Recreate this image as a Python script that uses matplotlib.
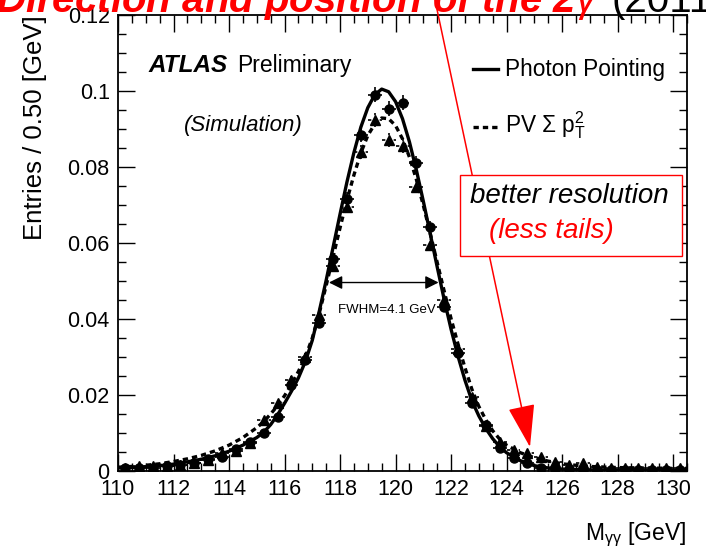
import numpy as np
import matplotlib
matplotlib.use('Agg')
import matplotlib.pyplot as plt
from matplotlib.ticker import MultipleLocator, FuncFormatter
from matplotlib.patches import Rectangle, FancyArrowPatch

plt.rcParams['font.family'] = ['Liberation Sans', 'DejaVu Sans']
plt.rcParams['mathtext.fontset'] = 'custom'
plt.rcParams['mathtext.rm'] = 'Liberation Sans'
plt.rcParams['mathtext.it'] = 'Liberation Sans:italic'
plt.rcParams['mathtext.bf'] = 'Liberation Sans:bold'

# bin centres, 0.5 GeV bins
mass = np.arange(110.25, 130.5, 0.5)

# Photon Pointing (circles), normalised entries
pp = [0.0007, 0.0008, 0.0009, 0.0012, 0.0016, 0.0021, 0.0032, 0.0038, 0.0058, 0.0077,
      0.0099, 0.0143, 0.0226, 0.0292, 0.0390, 0.0558, 0.0716, 0.0884, 0.0990, 0.0953,
      0.0969, 0.0811, 0.0643, 0.0432, 0.0310, 0.0178, 0.0121, 0.0060, 0.0033, 0.0022,
      0.0009, 0.0004, 0.0004, 0.0003, 0.0003, 0.0002, 0.0002, 0.0003, 0.0002, 0.0002,
      0.0002]

# PV sum pT^2 (triangles)
pv = [0.0009, 0.0012, 0.0013, 0.0014, 0.0016, 0.0022, 0.0028, 0.0048, 0.0052, 0.0075,
      0.0135, 0.0179, 0.0240, 0.0300, 0.0410, 0.0540, 0.0696, 0.0840, 0.0924, 0.0871,
      0.0855, 0.0748, 0.0595, 0.0450, 0.0320, 0.0195, 0.0118, 0.0077, 0.0055, 0.0048,
      0.0037, 0.0024, 0.0016, 0.0020, 0.0010, 0.0009, 0.0008, 0.0009, 0.0007, 0.0008,
      0.0008]

n_events = 25000  # for statistical error bars

# fitted curves
curve_x = [110.0, 110.5, 111.0, 111.5, 112.0, 112.5, 113.0, 113.5, 114.0, 114.5,
           115.0, 115.25, 115.5, 115.75, 116.0, 116.25, 116.5, 116.75, 117.0, 117.25,
           117.5, 117.75, 118.0, 118.25, 118.5, 118.75, 119.0, 119.25, 119.5, 119.75,
           120.0, 120.25, 120.5, 120.75, 121.0, 121.25, 121.5, 121.75, 122.0, 122.25,
           122.5, 122.75, 123.0, 123.25, 123.5, 123.75, 124.0, 124.5, 125.0, 125.5,
           126.0, 126.5, 127.0, 128.0, 129.0, 130.0, 130.5]
pp_fit = [0.0008, 0.0009, 0.0011, 0.0014, 0.0018, 0.0024, 0.0031, 0.0040, 0.0052, 0.0068,
          0.0088, 0.0102, 0.0122, 0.0148, 0.0178, 0.0210, 0.0245, 0.0288, 0.0344, 0.0420,
          0.0502, 0.0589, 0.0676, 0.0761, 0.0838, 0.0905, 0.0956, 0.0990, 0.1005, 0.0998,
          0.0972, 0.0927, 0.0866, 0.0792, 0.0710, 0.0624, 0.0537, 0.0452, 0.0373, 0.0302,
          0.0239, 0.0185, 0.0145, 0.0112, 0.0085, 0.0064, 0.0048, 0.0027, 0.0014, 0.0008,
          0.0005, 0.0004, 0.0003, 0.0002, 0.0002, 0.0002, 0.0002]
pv_fit = [0.0010, 0.0012, 0.0015, 0.0019, 0.0025, 0.0032, 0.0041, 0.0053, 0.0068, 0.0088,
          0.0114, 0.0130, 0.0150, 0.0172, 0.0198, 0.0228, 0.0262, 0.0300, 0.0350, 0.0415,
          0.0488, 0.0564, 0.0640, 0.0713, 0.0779, 0.0837, 0.0883, 0.0913, 0.0929, 0.0927,
          0.0909, 0.0874, 0.0826, 0.0767, 0.0699, 0.0625, 0.0549, 0.0474, 0.0401, 0.0334,
          0.0272, 0.0215, 0.0170, 0.0135, 0.0106, 0.0084, 0.0068, 0.0048, 0.0035, 0.0026,
          0.0019, 0.0015, 0.0012, 0.0009, 0.0008, 0.0007, 0.0007]

W, H = 706, 552
fig = plt.figure(figsize=(W / 100, H / 100), dpi=100)
ax = fig.add_axes([118 / W, 1 - 471 / H, (687 - 118) / W, (471 - 15) / H])

pp_err = np.sqrt(np.array(pp) / n_events)
pv_err = np.sqrt(np.array(pv) / n_events)

eb = ax.errorbar(mass, pv, yerr=pv_err, xerr=0.25, fmt='^', ms=6.5, color='k',
                 elinewidth=1.2, capsize=0, zorder=3)
eb[2][0].set_linestyle((0, (2, 1.5)))
eb[2][1].set_linestyle((0, (2, 1.5)))
ax.errorbar(mass, pp, yerr=pp_err, xerr=0.25, fmt='o', ms=6.5, color='k',
            elinewidth=1.2, capsize=0, zorder=4)

ax.plot(curve_x, pv_fit, color='k', lw=2.4, ls=(0, (1.6, 1.2)), zorder=5)
ax.plot(curve_x, pp_fit, color='k', lw=2.4, zorder=6)

ax.set_xlim(110, 130.5)
ax.set_ylim(0, 0.12)
ax.xaxis.set_major_locator(MultipleLocator(2))
ax.xaxis.set_minor_locator(MultipleLocator(0.5))
ax.yaxis.set_major_locator(MultipleLocator(0.02))
ax.yaxis.set_minor_locator(MultipleLocator(0.005))
ax.yaxis.set_major_formatter(FuncFormatter(lambda v, p: '%g' % round(v, 3)))
ax.tick_params(which='both', direction='in', top=True, right=True, width=1, labelsize=15.5)
ax.tick_params(which='major', length=12)
ax.tick_params(which='minor', length=6)
ax.tick_params(axis='x', pad=6)
ax.tick_params(axis='y', pad=6)
for s in ax.spines.values():
    s.set_linewidth(1.3)

fig.text(35 / W, 1 - 15 / H, 'Entries / 0.50 [GeV]', rotation=90, ha='center', va='top', fontsize=18.5)
fig.text(686 / W, 1 - 540 / H, r'M$_{\mathregular{\gamma\gamma}}$ [GeV]', ha='right', va='baseline',
         fontsize=16.5)

# ATLAS label
fig.text(148 / W, 1 - 72 / H, 'ATLAS', fontsize=17.5, fontweight='bold', style='italic', va='baseline')
fig.text(237 / W, 1 - 72 / H, 'Preliminary', fontsize=16.5, va='baseline')
fig.text(243 / W, 1 - 131 / H, '(Simulation)', fontsize=16, style='italic', ha='center', va='baseline')

# legend
fig.add_artist(plt.Line2D([473 / W, 498 / W], [1 - 69 / H, 1 - 69 / H], color='k', lw=2.4))
fig.text(505 / W, 1 - 76 / H, 'Photon Pointing', fontsize=16.3, va='baseline')
fig.add_artist(plt.Line2D([473 / W, 498 / W], [1 - 127 / H, 1 - 127 / H], color='k', lw=2.4,
                          ls=(0, (1.6, 1.2))))
fig.text(505 / W, 1 - 132 / H, r'PV $\Sigma$ $\mathregular{p_T^2}$', fontsize=16.3, va='baseline')

# FWHM arrow
ax.annotate('', xy=(117.6, 0.0496), xytext=(121.55, 0.0496),
            arrowprops=dict(arrowstyle='<|-|>', color='k', lw=1, mutation_scale=20, shrinkA=0, shrinkB=0))
ax.text(119.69, 0.0416, 'FWHM=4.1 GeV', fontsize=9.5, ha='center', va='baseline')

# red arrow and box
arr = FancyArrowPatch((435 / W, 1.0), (530 / W, 1 - 447 / H), transform=fig.transFigure,
                      arrowstyle='-|>,head_length=2.7,head_width=0.85', mutation_scale=10,
                      color='red', lw=1.1, shrinkA=0, shrinkB=0, zorder=10)
fig.add_artist(arr)
box = Rectangle((460 / W, 1 - 256 / H), 222 / W, 81 / H, transform=fig.transFigure,
                facecolor='white', edgecolor='red', lw=1, zorder=11)
fig.add_artist(box)
fig.text(569 / W, 1 - 203 / H, 'better resolution', fontsize=20, style='italic',
         ha='center', va='baseline', zorder=12)
fig.text(551 / W, 1 - 238 / H, '(less tails)', fontsize=20, style='italic', color='red',
         ha='center', va='baseline', zorder=12)

# cropped slide title
fig.text(-4 / W, 1 - 12 / H, r'Direction and position of the 2$\gamma$', fontsize=29,
         fontweight='bold', style='italic', color='red', va='baseline')
fig.text(612 / W, 1 - 12 / H, '(2011)', fontsize=29, color='k', va='baseline')

fig.savefig('out.png', dpi=100)
